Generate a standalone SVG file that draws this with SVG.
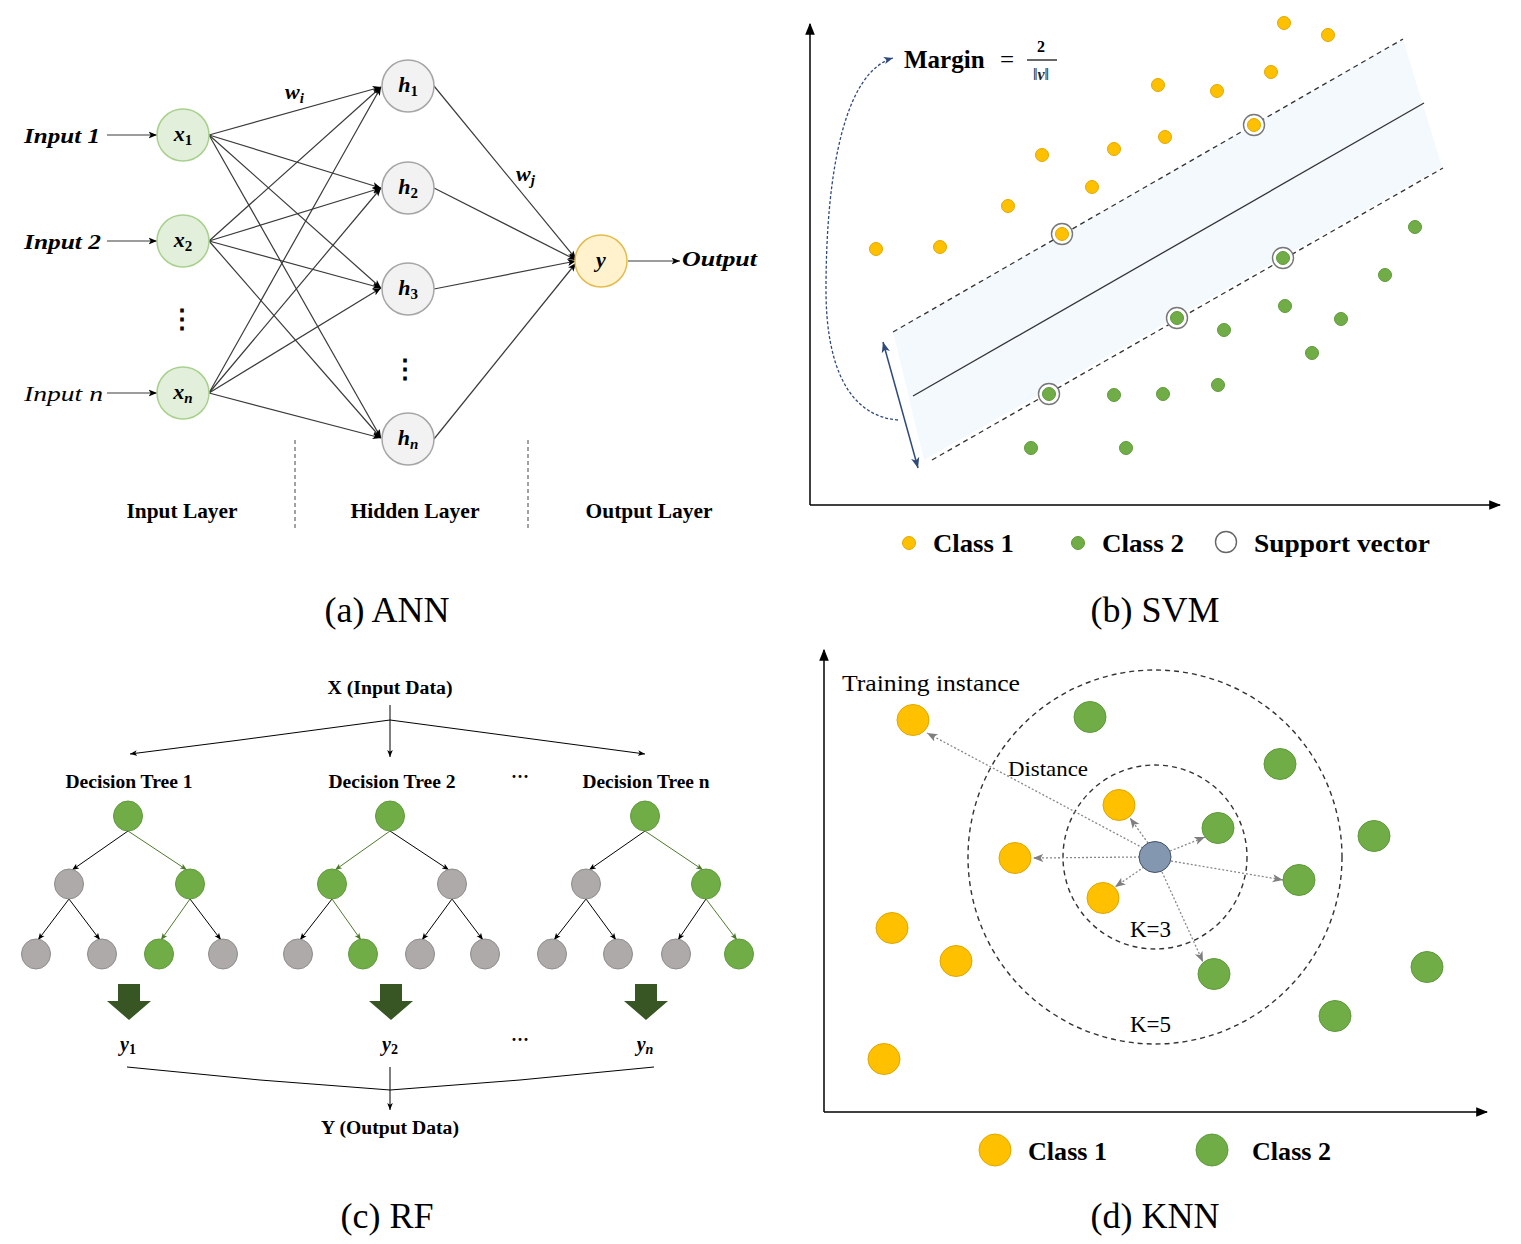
<svg xmlns="http://www.w3.org/2000/svg" width="1521" height="1244" viewBox="0 0 1521 1244">
<style>
text{font-family:"Liberation Serif","DejaVu Serif",serif;fill:#000}
.b{font-weight:bold}
.bi{font-weight:bold;font-style:italic}
.it{font-style:italic}
.cap{font-size:36px}
.lay{font-size:21px;font-weight:bold}
.inp{font-size:21px;font-weight:bold;font-style:italic}
.m{font-size:22px;font-weight:bold;font-style:italic}
.sub{font-size:15px}
.up{font-style:normal}
.xn{fill:#e2efda;stroke:#a9d18e;stroke-width:1.5}
.hn{fill:#f2f2f2;stroke:#a6a6a6;stroke-width:1.5}
.yn{fill:#fff2cc;stroke:#e3bc4f;stroke-width:1.5}
.ln{stroke:#3a3a3a;stroke-width:1.2;fill:none}
.c1{fill:#ffc000;stroke:#e2a900;stroke-width:1}
.c2{fill:#70ad47;stroke:#5f9a3b;stroke-width:1}
.sv{fill:#fff;stroke:#777;stroke-width:1.4}
.dash{stroke:#333;stroke-width:1.3;stroke-dasharray:5 4;fill:none}
.ax{stroke:#000;stroke-width:1.5;fill:none}
.gn{fill:#70ad47;stroke:#5f9a3b;stroke-width:1}
.gy{fill:#aeaaaa;stroke:#8f8b8b;stroke-width:1}
.te{stroke:#000;stroke-width:1;fill:none}
.tg{stroke:#4f7a2c;stroke-width:1;fill:none}
.kd{stroke:#888;stroke-width:1.3;stroke-dasharray:2 2;fill:none}
.kc{stroke:#333;stroke-width:1.4;stroke-dasharray:5 4;fill:none}
.k1{fill:#ffc000;stroke:#dfa800;stroke-width:1}
.k2{fill:#70ad47;stroke:#5f9a3b;stroke-width:1}
</style>
<defs>
<marker id="ah" viewBox="0 0 10 10" refX="10" refY="5" markerWidth="7" markerHeight="7" orient="auto"><path d="M0,1 L10,5 L0,9 L2.5,5 z" fill="#000"/></marker>
<marker id="ahg" viewBox="0 0 10 10" refX="10" refY="5" markerWidth="7" markerHeight="7" orient="auto"><path d="M0,1 L10,5 L0,9 L2.5,5 z" fill="#4f7a2c"/></marker>
<marker id="ahk" viewBox="0 0 10 10" refX="10" refY="5" markerWidth="8" markerHeight="8" orient="auto"><path d="M0,1 L10,5 L0,9 L2.5,5 z" fill="#7f7f7f"/></marker>
<marker id="ahn" viewBox="0 0 10 10" refX="10" refY="5" markerWidth="7" markerHeight="7" orient="auto-start-reverse"><path d="M0,1 L10,5 L0,9 L2.5,5 z" fill="#2f4a7a"/></marker>
<marker id="ahax" viewBox="0 0 10 10" refX="9" refY="5" markerWidth="8" markerHeight="8" orient="auto"><path d="M0,1 L10,5 L0,9 z" fill="#000"/></marker>
</defs>
<rect width="1521" height="1244" fill="#fff"/>

<!-- ===== (a) ANN ===== -->
<g id="ann-connectors">
<line class="ln" x1="107" y1="135" x2="157" y2="135" marker-end="url(#ah)"/>
<line class="ln" x1="107" y1="241" x2="157" y2="241" marker-end="url(#ah)"/>
<line class="ln" x1="107" y1="393" x2="157" y2="393" marker-end="url(#ah)"/>
<line class="ln" x1="209" y1="135" x2="381" y2="87" marker-end="url(#ah)"/>
<line class="ln" x1="209" y1="135" x2="381" y2="188" marker-end="url(#ah)"/>
<line class="ln" x1="209" y1="135" x2="381" y2="288" marker-end="url(#ah)"/>
<line class="ln" x1="209" y1="135" x2="381" y2="438" marker-end="url(#ah)"/>
<line class="ln" x1="209" y1="241" x2="381" y2="87" marker-end="url(#ah)"/>
<line class="ln" x1="209" y1="241" x2="381" y2="188" marker-end="url(#ah)"/>
<line class="ln" x1="209" y1="241" x2="381" y2="288" marker-end="url(#ah)"/>
<line class="ln" x1="209" y1="241" x2="381" y2="438" marker-end="url(#ah)"/>
<line class="ln" x1="209" y1="393" x2="381" y2="87" marker-end="url(#ah)"/>
<line class="ln" x1="209" y1="393" x2="381" y2="188" marker-end="url(#ah)"/>
<line class="ln" x1="209" y1="393" x2="381" y2="288" marker-end="url(#ah)"/>
<line class="ln" x1="209" y1="393" x2="381" y2="438" marker-end="url(#ah)"/>
<line class="ln" x1="434" y1="86" x2="576" y2="259" marker-end="url(#ah)"/>
<line class="ln" x1="434" y1="188" x2="576" y2="260" marker-end="url(#ah)"/>
<line class="ln" x1="434" y1="289" x2="576" y2="261" marker-end="url(#ah)"/>
<line class="ln" x1="434" y1="439" x2="576" y2="263" marker-end="url(#ah)"/>
<line class="ln" x1="628" y1="261" x2="680" y2="261" marker-end="url(#ah)"/>
<line x1="295" y1="440" x2="295" y2="528" stroke="#444" stroke-width="1" stroke-dasharray="4 3"/>
<line x1="528" y1="440" x2="528" y2="528" stroke="#444" stroke-width="1" stroke-dasharray="4 3"/>
</g>
<g id="ann-x1"><circle class="xn" cx="183" cy="135" r="26"/><text class="m" x="183" y="141" text-anchor="middle">x<tspan class="sub up" dy="4">1</tspan></text></g>
<g id="ann-x2"><circle class="xn" cx="183" cy="241" r="26"/><text class="m" x="183" y="247" text-anchor="middle">x<tspan class="sub up" dy="4">2</tspan></text></g>
<g id="ann-xn"><circle class="xn" cx="183" cy="393" r="26"/><text class="m" x="183" y="399" text-anchor="middle">x<tspan class="sub" dy="4">n</tspan></text></g>
<g id="ann-h1"><circle class="hn" cx="408" cy="86" r="26"/><text class="m" x="408" y="92" text-anchor="middle">h<tspan class="sub up" dy="4">1</tspan></text></g>
<g id="ann-h2"><circle class="hn" cx="408" cy="188" r="26"/><text class="m" x="408" y="194" text-anchor="middle">h<tspan class="sub up" dy="4">2</tspan></text></g>
<g id="ann-h3"><circle class="hn" cx="408" cy="289" r="26"/><text class="m" x="408" y="295" text-anchor="middle">h<tspan class="sub up" dy="4">3</tspan></text></g>
<g id="ann-hn"><circle class="hn" cx="408" cy="439" r="26"/><text class="m" x="408" y="445" text-anchor="middle">h<tspan class="sub" dy="4">n</tspan></text></g>
<g id="ann-y"><circle class="yn" cx="601" cy="261" r="26"/><text class="m" x="601" y="267" text-anchor="middle">y</text></g>
<g id="ann-labels">
<text class="inp" x="24" y="143" textLength="76" lengthAdjust="spacingAndGlyphs">Input 1</text>
<text class="inp" x="24" y="249" textLength="77" lengthAdjust="spacingAndGlyphs">Input 2</text>
<text class="it" x="24" y="401" font-size="22" textLength="79" lengthAdjust="spacingAndGlyphs">Input n</text>
<text class="inp" x="682" y="266" textLength="75" lengthAdjust="spacingAndGlyphs">Output</text>
<text class="m" x="285" y="99">w<tspan class="sub" dy="4">i</tspan></text>
<text class="m" x="516" y="181">w<tspan class="sub" dy="4">j</tspan></text>
<text x="182" y="328" text-anchor="middle" font-size="26" font-weight="bold" font-family="DejaVu Sans,sans-serif">⋮</text>
<text x="405" y="378" text-anchor="middle" font-size="26" font-weight="bold" font-family="DejaVu Sans,sans-serif">⋮</text>
<text class="lay" x="182" y="518" text-anchor="middle" textLength="111" lengthAdjust="spacingAndGlyphs">Input Layer</text>
<text class="lay" x="415" y="518" text-anchor="middle" textLength="129" lengthAdjust="spacingAndGlyphs">Hidden Layer</text>
<text class="lay" x="649" y="518" text-anchor="middle" textLength="127" lengthAdjust="spacingAndGlyphs">Output Layer</text>
<text class="cap" x="387" y="622" text-anchor="middle">(a) ANN</text>
</g>

<!-- ===== (b) SVM ===== -->
<g id="svm-axes">
<line class="ax" x1="810" y1="505" x2="810" y2="24" marker-end="url(#ahax)"/>
<line class="ax" x1="810" y1="505" x2="1500" y2="505" marker-end="url(#ahax)"/>
</g>
<g id="svm-band">
<polygon points="893,332 1403,39 1442,167 924,460" fill="#f4f9fe"/>
<line class="dash" x1="893" y1="332" x2="1403" y2="39"/>
<line class="dash" x1="932" y1="460" x2="1443" y2="168"/>
<line x1="913" y1="396" x2="1424" y2="103" stroke="#333" stroke-width="1.3"/>
</g>
<g id="svm-connectors">
<line x1="883" y1="342" x2="918" y2="468" stroke="#2f4a7a" stroke-width="1.5" marker-start="url(#ahn)" marker-end="url(#ahn)"/>
<path d="M898,420 C848,416 826,365 826,290 C826,170 845,72 893,58" fill="none" stroke="#2f4a7a" stroke-width="1.3" stroke-dasharray="3 2" marker-end="url(#ahn)"/>
</g>
<g id="svm-margin">
<text class="b" x="904" y="68" font-size="25">Margin</text>
<text x="1000" y="68" font-size="25">=</text>
<text class="b" x="1041" y="52" font-size="16" text-anchor="middle">2</text>
<line x1="1027" y1="60" x2="1057" y2="60" stroke="#000" stroke-width="1.2"/>
<text x="1041" y="80" font-size="16" text-anchor="middle" font-family="DejaVu Serif,serif" fill="#444">‖<tspan font-style="italic" font-weight="bold" fill="#222">v</tspan>‖</text>
</g>
<g id="svm-class1">
<circle class="c1" cx="876" cy="249" r="6.5"/><circle class="c1" cx="940" cy="247" r="6.5"/>
<circle class="c1" cx="1008" cy="206" r="6.5"/><circle class="c1" cx="1042" cy="155" r="6.5"/>
<circle class="c1" cx="1092" cy="187" r="6.5"/><circle class="c1" cx="1114" cy="149" r="6.5"/>
<circle class="c1" cx="1165" cy="137" r="6.5"/><circle class="c1" cx="1158" cy="85" r="6.5"/>
<circle class="c1" cx="1217" cy="91" r="6.5"/><circle class="c1" cx="1271" cy="72" r="6.5"/>
<circle class="c1" cx="1284" cy="23" r="6.5"/><circle class="c1" cx="1328" cy="35" r="6.5"/>
<circle class="sv" cx="1062" cy="234" r="10.5"/><circle class="c1" cx="1062" cy="234" r="6.5"/>
<circle class="sv" cx="1254" cy="125" r="10.5"/><circle class="c1" cx="1254" cy="125" r="6.5"/>
</g>
<g id="svm-class2">
<circle class="sv" cx="1283" cy="258" r="10.5"/><circle class="c2" cx="1283" cy="258" r="6.5"/>
<circle class="sv" cx="1177" cy="318" r="10.5"/><circle class="c2" cx="1177" cy="318" r="6.5"/>
<circle class="sv" cx="1049" cy="394" r="10.5"/><circle class="c2" cx="1049" cy="394" r="6.5"/>
<circle class="c2" cx="1415" cy="227" r="6.5"/><circle class="c2" cx="1385" cy="275" r="6.5"/>
<circle class="c2" cx="1285" cy="306" r="6.5"/><circle class="c2" cx="1341" cy="319" r="6.5"/>
<circle class="c2" cx="1312" cy="353" r="6.5"/><circle class="c2" cx="1224" cy="330" r="6.5"/>
<circle class="c2" cx="1218" cy="385" r="6.5"/><circle class="c2" cx="1163" cy="394" r="6.5"/>
<circle class="c2" cx="1114" cy="395" r="6.5"/><circle class="c2" cx="1031" cy="448" r="6.5"/>
<circle class="c2" cx="1126" cy="448" r="6.5"/>
</g>
<g id="svm-legend">
<circle class="c1" cx="909" cy="543" r="6.5"/>
<text class="b" x="933" y="552" font-size="25" textLength="81" lengthAdjust="spacingAndGlyphs">Class 1</text>
<circle class="c2" cx="1078" cy="543" r="6.5"/>
<text class="b" x="1102" y="552" font-size="25" textLength="82" lengthAdjust="spacingAndGlyphs">Class 2</text>
<circle cx="1226" cy="542" r="10.5" fill="#fff" stroke="#666" stroke-width="1.4"/>
<text class="b" x="1254" y="552" font-size="25" textLength="176" lengthAdjust="spacingAndGlyphs">Support vector</text>
<text class="cap" x="1155" y="622" text-anchor="middle">(b) SVM</text>
</g>

<!-- ===== (c) RF ===== -->
<g id="rf-connectors">
<line class="te" x1="390" y1="705" x2="390" y2="757" marker-end="url(#ah)"/>
<polyline class="te" points="390,720 240,740 130,754" marker-end="url(#ah)"/>
<polyline class="te" points="390,720 540,740 645,754" marker-end="url(#ah)"/>
<line class="te" x1="128" y1="831" x2="72" y2="870" marker-end="url(#ah)"/>
<line class="tg" x1="128" y1="831" x2="187" y2="870" marker-end="url(#ahg)"/>
<line class="te" x1="69" y1="899" x2="38" y2="940" marker-end="url(#ah)"/>
<line class="te" x1="69" y1="899" x2="100" y2="940" marker-end="url(#ah)"/>
<line class="tg" x1="190" y1="899" x2="161" y2="940" marker-end="url(#ahg)"/>
<line class="te" x1="190" y1="899" x2="221" y2="940" marker-end="url(#ah)"/>
<line class="tg" x1="390" y1="831" x2="335" y2="870" marker-end="url(#ahg)"/>
<line class="te" x1="390" y1="831" x2="449" y2="870" marker-end="url(#ah)"/>
<line class="te" x1="332" y1="899" x2="300" y2="940" marker-end="url(#ah)"/>
<line class="tg" x1="332" y1="899" x2="361" y2="940" marker-end="url(#ahg)"/>
<line class="te" x1="452" y1="899" x2="422" y2="940" marker-end="url(#ah)"/>
<line class="te" x1="452" y1="899" x2="483" y2="940" marker-end="url(#ah)"/>
<line class="te" x1="645" y1="831" x2="589" y2="870" marker-end="url(#ah)"/>
<line class="tg" x1="645" y1="831" x2="703" y2="870" marker-end="url(#ahg)"/>
<line class="te" x1="586" y1="899" x2="554" y2="940" marker-end="url(#ah)"/>
<line class="te" x1="586" y1="899" x2="616" y2="940" marker-end="url(#ah)"/>
<line class="te" x1="706" y1="899" x2="678" y2="940" marker-end="url(#ah)"/>
<line class="tg" x1="706" y1="899" x2="737" y2="940" marker-end="url(#ahg)"/>
<polyline class="te" points="127,1067 260,1080 390,1090 520,1080 654,1067"/>
<line class="te" x1="390" y1="1067" x2="390" y2="1110" marker-end="url(#ah)"/>
</g>
<g id="rf-tree1">
<ellipse class="gn" cx="128" cy="816" rx="14.5" ry="15"/>
<ellipse class="gy" cx="69" cy="884" rx="14.5" ry="15"/><ellipse class="gn" cx="190" cy="884" rx="14.5" ry="15"/>
<ellipse class="gy" cx="36" cy="954" rx="14.5" ry="15"/><ellipse class="gy" cx="102" cy="954" rx="14.5" ry="15"/>
<ellipse class="gn" cx="159" cy="954" rx="14.5" ry="15"/><ellipse class="gy" cx="223" cy="954" rx="14.5" ry="15"/>
</g>
<g id="rf-tree2">
<ellipse class="gn" cx="390" cy="816" rx="14.5" ry="15"/>
<ellipse class="gn" cx="332" cy="884" rx="14.5" ry="15"/><ellipse class="gy" cx="452" cy="884" rx="14.5" ry="15"/>
<ellipse class="gy" cx="298" cy="954" rx="14.5" ry="15"/><ellipse class="gn" cx="363" cy="954" rx="14.5" ry="15"/>
<ellipse class="gy" cx="420" cy="954" rx="14.5" ry="15"/><ellipse class="gy" cx="485" cy="954" rx="14.5" ry="15"/>
</g>
<g id="rf-treen">
<ellipse class="gn" cx="645" cy="816" rx="14.5" ry="15"/>
<ellipse class="gy" cx="586" cy="884" rx="14.5" ry="15"/><ellipse class="gn" cx="706" cy="884" rx="14.5" ry="15"/>
<ellipse class="gy" cx="552" cy="954" rx="14.5" ry="15"/><ellipse class="gy" cx="618" cy="954" rx="14.5" ry="15"/>
<ellipse class="gy" cx="676" cy="954" rx="14.5" ry="15"/><ellipse class="gn" cx="739" cy="954" rx="14.5" ry="15"/>
</g>
<g id="rf-bigarrows" fill="#375623">
<polygon points="118,984 140,984 140,1001 151,1001 129,1020 107,1001 118,1001"/>
<polygon points="380,984 402,984 402,1001 413,1001 391,1020 369,1001 380,1001"/>
<polygon points="635,984 657,984 657,1001 668,1001 646,1020 624,1001 635,1001"/>
</g>
<g id="rf-labels">
<text class="b" x="390" y="694" text-anchor="middle" font-size="18" textLength="125" lengthAdjust="spacingAndGlyphs">X (Input Data)</text>
<text class="b" x="129" y="788" text-anchor="middle" font-size="18" textLength="127" lengthAdjust="spacingAndGlyphs">Decision Tree 1</text>
<text class="b" x="392" y="788" text-anchor="middle" font-size="18" textLength="127" lengthAdjust="spacingAndGlyphs">Decision Tree 2</text>
<text class="b" x="646" y="788" text-anchor="middle" font-size="18" textLength="127" lengthAdjust="spacingAndGlyphs">Decision Tree n</text>
<text class="b" x="520" y="783" text-anchor="middle" font-size="18">···</text>
<text class="bi" x="128" y="1051" text-anchor="middle" font-size="20">y<tspan font-size="14" dy="3" font-style="normal">1</tspan></text>
<text class="bi" x="390" y="1051" text-anchor="middle" font-size="20">y<tspan font-size="14" dy="3" font-style="normal">2</tspan></text>
<text class="bi" x="645" y="1051" text-anchor="middle" font-size="20">y<tspan font-size="14" dy="3">n</tspan></text>
<text class="b" x="520" y="1046" text-anchor="middle" font-size="18">···</text>
<text class="b" x="390" y="1134" text-anchor="middle" font-size="18" textLength="138" lengthAdjust="spacingAndGlyphs">Y (Output Data)</text>
<text class="cap" x="387" y="1228" text-anchor="middle">(c) RF</text>
</g>

<!-- ===== (d) KNN ===== -->
<g id="knn-axes">
<line class="ax" x1="824" y1="1112" x2="824" y2="650" marker-end="url(#ahax)"/>
<line class="ax" x1="824" y1="1112" x2="1487" y2="1112" marker-end="url(#ahax)"/>
</g>
<g id="knn-circles">
<circle class="kc" cx="1155" cy="857" r="187"/>
<circle class="kc" cx="1155" cy="857" r="92"/>
</g>
<g id="knn-connectors">
<line class="kd" x1="1143" y1="848" x2="927" y2="733" marker-end="url(#ahk)"/>
<line class="kd" x1="1148" y1="843" x2="1130" y2="818" marker-end="url(#ahk)"/>
<line class="kd" x1="1140" y1="857" x2="1033" y2="858" marker-end="url(#ahk)"/>
<line class="kd" x1="1144" y1="867" x2="1115" y2="887" marker-end="url(#ahk)"/>
<line class="kd" x1="1170" y1="851" x2="1205" y2="837" marker-end="url(#ahk)"/>
<line class="kd" x1="1171" y1="861" x2="1283" y2="880" marker-end="url(#ahk)"/>
<line class="kd" x1="1162" y1="872" x2="1203" y2="962" marker-end="url(#ahk)"/>
</g>
<g id="knn-class1">
<ellipse class="k1" cx="913" cy="720" rx="16" ry="15.5"/>
<ellipse class="k1" cx="1119" cy="805" rx="16" ry="15.5"/>
<ellipse class="k1" cx="1015" cy="858" rx="16" ry="15.5"/>
<ellipse class="k1" cx="1103" cy="898" rx="16" ry="15.5"/>
<ellipse class="k1" cx="892" cy="928" rx="16" ry="15.5"/>
<ellipse class="k1" cx="956" cy="961" rx="16" ry="15.5"/>
<ellipse class="k1" cx="884" cy="1059" rx="16" ry="15.5"/>
</g>
<g id="knn-class2">
<ellipse class="k2" cx="1090" cy="717" rx="16" ry="15.5"/>
<ellipse class="k2" cx="1280" cy="764" rx="16" ry="15.5"/>
<ellipse class="k2" cx="1218" cy="828" rx="16" ry="15.5"/>
<ellipse class="k2" cx="1374" cy="836" rx="16" ry="15.5"/>
<ellipse class="k2" cx="1299" cy="880" rx="16" ry="15.5"/>
<ellipse class="k2" cx="1214" cy="974" rx="16" ry="15.5"/>
<ellipse class="k2" cx="1427" cy="967" rx="16" ry="15.5"/>
<ellipse class="k2" cx="1335" cy="1016" rx="16" ry="15.5"/>
</g>
<g id="knn-query"><ellipse cx="1155" cy="857" rx="16" ry="15.5" fill="#8497b0" stroke="#44546a" stroke-width="1"/></g>
<g id="knn-labels">
<text x="842" y="691" font-size="23" textLength="178" lengthAdjust="spacingAndGlyphs">Training instance</text>
<text x="1008" y="776" font-size="21" textLength="80" lengthAdjust="spacingAndGlyphs">Distance</text>
<text x="1130" y="937" font-size="23">K=3</text>
<text x="1130" y="1032" font-size="23">K=5</text>
<ellipse class="k1" cx="995" cy="1150" rx="16" ry="16"/>
<text class="b" x="1028" y="1160" font-size="25" textLength="79" lengthAdjust="spacingAndGlyphs">Class 1</text>
<ellipse class="k2" cx="1212" cy="1150" rx="16" ry="16"/>
<text class="b" x="1252" y="1160" font-size="25" textLength="79" lengthAdjust="spacingAndGlyphs">Class 2</text>
<text class="cap" x="1155" y="1228" text-anchor="middle">(d) KNN</text>
</g>
</svg>
